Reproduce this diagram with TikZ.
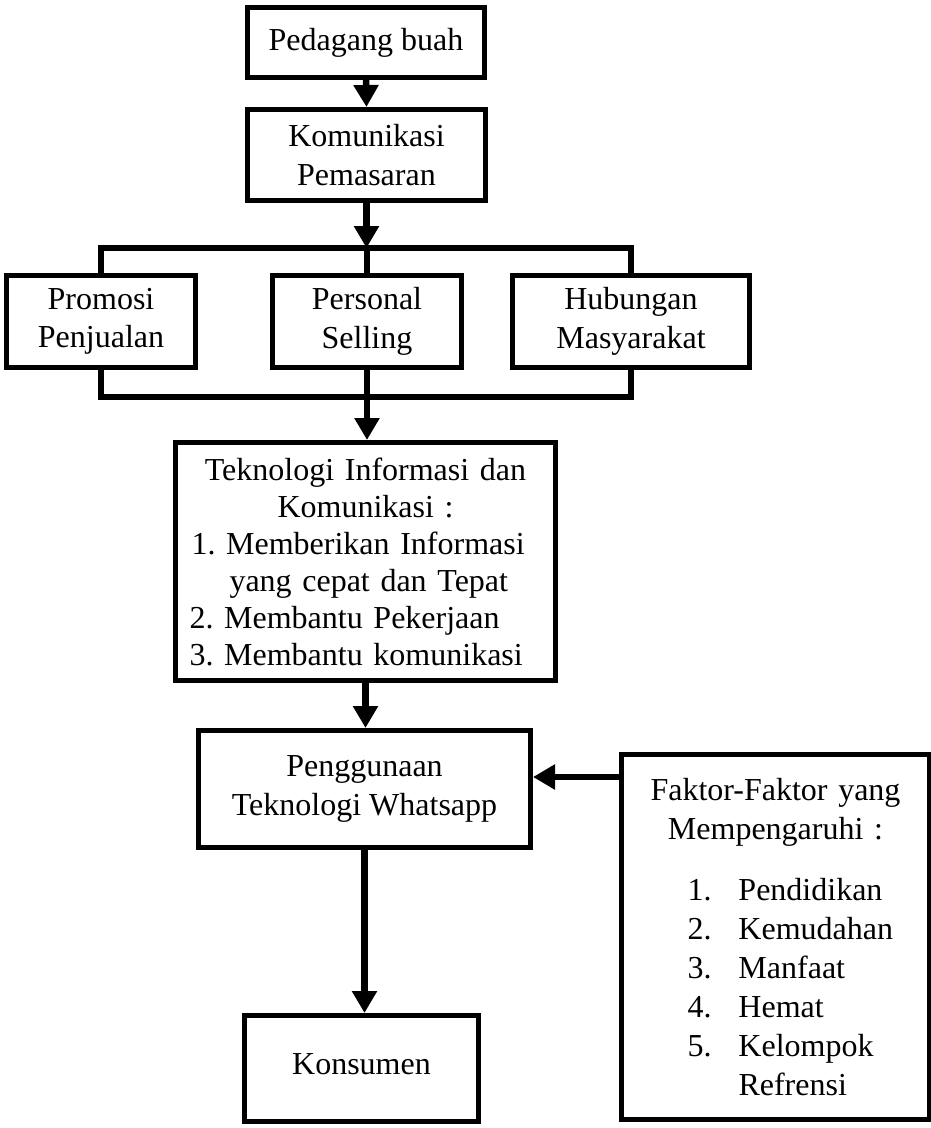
\documentclass[tikz,border=0pt]{standalone}
\usepackage{fontspec}
\setmainfont{Liberation Serif}
\usetikzlibrary{arrows.meta}
\frenchspacing
\begin{document}
\begin{tikzpicture}[x=1pt,y=-1pt,
  box/.style={draw, line width=5pt, inner sep=0pt, align=center, font=\fontsize{32}{38.5}\selectfont},
  conn/.style={line width=6.5pt},
  arr/.style={line width=6.5pt, -{Triangle[length=22pt,width=24pt]}}
]
\useasboundingbox (0,0) rectangle (931,1128);
\node[box, minimum width=237pt, minimum height=70pt] (pb) at (366,42.5) {Pedagang buah};
\node[box, minimum width=238pt, minimum height=91pt] (km) at (366.5,155) {Komunikasi\\Pemasaran};
\node[box, minimum width=189pt, minimum height=92pt] (pr) at (101,321.5) {Promosi\\Penjualan};
\node[box, minimum width=189pt, minimum height=92pt] (ps) at (367,321.5) {Personal\\Selling};
\node[box, minimum width=237pt, minimum height=92pt] (hm) at (631,321.5) {Hubungan\\Masyarakat};
\node[box, minimum width=380pt, minimum height=238pt, text width=352pt, align=left,
      font=\fontsize{32}{37}\selectfont] (ti) at (365.5,561.5)
  {\makebox[352pt]{Teknologi Informasi dan}\\
   \makebox[352pt]{Komunikasi :}\\
   \hspace*{2pt}1. Memberikan Informasi\\
   \hspace*{40pt}yang cepat dan Tepat\\
   2. Membantu Pekerjaan\\
   3. Membantu komunikasi};
\node[box, minimum width=332pt, minimum height=117pt] (pg) at (364.5,789) {Penggunaan\\Teknologi Whatsapp};
\node[box, minimum width=234pt, minimum height=106pt] (ks) at (361.5,1068.5) {\raisebox{8pt}{Konsumen}};
\node[box, minimum width=308pt, minimum height=365pt, text width=280pt, align=left,
      font=\fontsize{32}{39}\selectfont] (fk) at (775.5,937)
  {\makebox[280pt]{Faktor-Faktor yang}\\
   \makebox[280pt]{Mempengaruhi :}\\[22pt]
   \hspace*{52pt}\makebox[24pt][r]{1.}\hspace{27pt}Pendidikan\\
   \hspace*{52pt}\makebox[24pt][r]{2.}\hspace{27pt}Kemudahan\\
   \hspace*{52pt}\makebox[24pt][r]{3.}\hspace{27pt}Manfaat\\
   \hspace*{52pt}\makebox[24pt][r]{4.}\hspace{27pt}Hemat\\
   \hspace*{52pt}\makebox[24pt][r]{5.}\hspace{27pt}Kelompok\\
   \hspace*{103pt}Refrensi};
\coordinate (tb) at (367,248);
\coordinate (bb) at (367,397);
\coordinate (fa) at ([yshift=12pt]pg.east);
\draw[arr] (pb.south) -- (km.north);
\draw[arr] (km.south) -- (km.south |- tb);
\draw[conn] (pr.north) -- (pr.north |- tb) -- (hm.north |- tb) -- (hm.north);
\draw[conn] (tb) -- (ps.north);
\draw[conn] (pr.south) -- (pr.south |- bb) -- (hm.south |- bb) -- (hm.south);
\draw[conn] (ps.south) -- (bb);
\draw[arr] (bb) -- (bb |- ti.north);
\draw[arr] (ti.south) -- (ti.south |- pg.north);
\draw[arr] (pg.south) -- (pg.south |- ks.north);
\draw[arr] (fk.west |- fa) -- (fa);
\end{tikzpicture}
\end{document}
